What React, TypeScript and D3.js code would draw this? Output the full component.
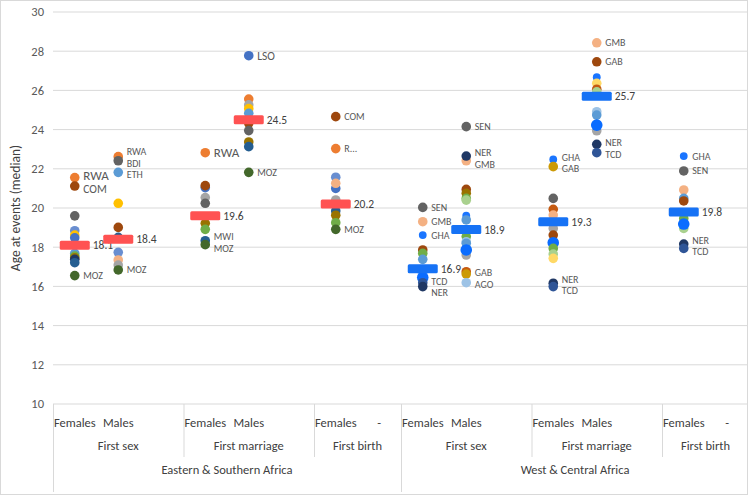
import React from "react";
import * as d3 from "d3";

type Pt = [number, number, string?]; // [series index, median age, country label]

// ---------- DATA ----------
const slotLabels = ["Females", "Males", "", "Females", "Males", "", "Females", "-", "Females", "Males", "", "Females", "Males", "", "Females", "-"];
const eventNames = ["First sex", "First marriage", "First birth", "First sex", "First marriage", "First birth"];
const eventSpans = [[0, 3], [3, 6], [6, 8], [8, 11], [11, 14], [14, 16]];
const regionNames = ["Eastern & Southern Africa", "West & Central Africa"];
const regionSpans = [[0, 8], [8, 16]];
const yTicks = [10, 12, 14, 16, 18, 20, 22, 24, 26, 28, 30];

const esaSexFemales: Pt[] = [[0, 21.55, "RWA"], [1, 21.12, "COM"], [2, 19.6], [3, 18.84], [4, 18.62], [5, 18.48], [6, 17.69], [7, 17.55], [8, 17.46], [13, 17.38], [9, 17.21], [10, 16.55, "MOZ"]];
const esaSexMales: Pt[] = [[0, 22.62, "RWA"], [2, 22.41, "BDI"], [6, 21.82, "ETH"], [4, 20.24], [1, 19.01], [9, 18.5], [3, 17.74], [11, 17.35], [12, 17.09], [10, 16.84, "MOZ"]];
const esaMarFemales: Pt[] = [[0, 22.82, "RWA"], [5, 21.04], [1, 21.14], [12, 20.53], [2, 20.24], [8, 19.22], [7, 18.91], [9, 18.33, "MWI"], [10, 18.13, "MOZ"]];
const esaMarMales: Pt[] = [[5, 27.77, "LSO"], [0, 25.56], [12, 25.26], [4, 25.07], [6, 24.83], [1, 24.32], [2, 23.95], [8, 23.37], [9, 23.13], [10, 21.82, "MOZ"]];
const esaBirthFemales: Pt[] = [[1, 24.66, "COM"], [0, 23.03, "R..."], [3, 21.57], [5, 21.0], [11, 21.26], [12, 20.41], [9, 19.85], [8, 19.63], [7, 19.25], [10, 18.91, "MOZ"]];

const wcaSexFemales: Pt[] = [[2, 20.03, "SEN"], [11, 19.3, "GMB"], [15, 18.62, "GHA"], [1, 17.86], [7, 17.69], [6, 17.38], [14, 16.46], [21, 16.19, "TCD"], [13, 15.99, "NER"]];
const wcaSexMales: Pt[] = [[2, 24.15, "SEN"], [11, 22.41, "GMB"], [13, 22.65, "NER"], [1, 20.95], [8, 20.75], [7, 20.49], [17, 20.4], [15, 19.61], [6, 19.39], [7, 18.54], [20, 18.28], [6, 18.2], [12, 17.6], [14, 17.86], [18, 16.75], [16, 16.63, "GAB"], [20, 16.19, "AGO"]];
const wcaMarFemales: Pt[] = [[15, 22.48, "GHA"], [16, 22.11, "GAB"], [2, 20.49], [18, 19.93], [11, 19.64], [12, 18.96], [1, 18.62], [14, 18.23], [7, 17.94], [17, 17.65], [19, 17.43], [13, 16.16, "NER"], [21, 15.99, "TCD"]];
const wcaMarMales: Pt[] = [[11, 28.43, "GMB"], [1, 27.46, "GAB"], [15, 26.67], [19, 26.36], [18, 26.06], [17, 25.93], [20, 24.91], [6, 24.74], [12, 23.94], [14, 24.23], [13, 23.25, "NER"], [21, 22.82, "TCD"]];
const wcaBirthFemales: Pt[] = [[15, 22.65, "GHA"], [2, 21.89, "SEN"], [11, 20.92], [6, 20.49], [1, 20.36], [7, 19.47], [17, 18.96], [14, 19.18], [13, 18.16, "NER"], [21, 17.94, "TCD"]];

const esaMedians = [18.1, 18.4, 19.6, 24.5, 20.2];
const wcaMedians = [16.9, 18.9, 19.3, 25.7, 19.8];
const panelSlots = [0, 1, 3, 4, 6];

// ---------- STYLE ----------
const palette = [
  "#ED7D31", "#9E480E", "#636363", "#698ED0", "#FFC000", "#4472C4", "#5B9BD5", "#70AD47",
  "#997300", "#255E91", "#43682B", "#F4B183", "#A5A5A5", "#203864", "#0A6CFF", "#1A75FF",
  "#CC9A06", "#A9D18E", "#C55A11", "#FFD966", "#9DC3E6", "#2F5597",
];
const radiusOf = (s: number) => (s === 14 ? 5.8 : s === 15 ? 3.9 : 4.8);
const bigLabels = new Set(["0:RWA", "2:RWA"]);
const midLabels = new Set(["0:COM", "3:LSO"]);
const FONT = "Carlito, Calibri, Lato, 'Open Sans', sans-serif";

const W = 748, H = 497;

type Lab = { text: string; y: number; key: string; fixed: boolean; size: number };

export default function App() {
  const x = d3.scaleBand<number>().domain(d3.range(16)).range([53, 749]).padding(0);
  const y = d3.scaleLinear().domain([10, 30]).range([404, 12]);
  const cx = (slot: number) => (x(slot) as number) + x.bandwidth() / 2;
  const edge = (slot: number) => (x(slot) as number);

  const panels = [
    ...[esaSexFemales, esaSexMales, esaMarFemales, esaMarMales, esaBirthFemales].map((pts, i) => ({ pts, slot: panelSlots[i], median: esaMedians[i], color: "#FF5252" })),
    ...[wcaSexFemales, wcaSexMales, wcaMarFemales, wcaMarMales, wcaBirthFemales].map((pts, i) => ({ pts, slot: panelSlots[i] + 8, median: wcaMedians[i], color: "#1672F5" })),
  ];

  const sizeOf = (key: string) => (bigLabels.has(key) ? 13 : midLabels.has(key) ? 11.5 : 10);

  const placeLabels = (pts: Pt[], median: number, pi: number) => {
    const labs: Lab[] = pts.filter((p) => p[2]).map((p) => {
      const key = `${pi}:${p[2]}`;
      return { text: p[2] as string, y: y(p[1]), key, fixed: false, size: sizeOf(key) };
    });
    labs.push({ text: "", y: y(median), key: "median", fixed: true, size: 11.5 });
    labs.sort((a, b) => a.y - b.y);
    for (let it = 0; it < 40; it++) {
      for (let i = 0; i < labs.length - 1; i++) {
        const a = labs[i], b = labs[i + 1];
        const gap = b.y - a.y;
        const min = (a.size + b.size) / 2 + 1.5;
        if (gap < min) {
          const d = min - gap;
          if (a.fixed) b.y += d;
          else if (b.fixed) a.y -= d;
          else { a.y -= d / 2; b.y += d / 2; }
        }
      }
    }
    return labs.filter((l) => !l.fixed);
  };

  return (
    <svg width={W} height={H} style={{ position: "absolute", left: 0, top: 0, background: "#fff" }} fontFamily={FONT}>
      <rect x={0.5} y={0.5} width={W - 1} height={494} fill="#fff" stroke="#d9d9d9" />
      {yTicks.map((t) => (
        <g key={t}>
          <line x1={53} x2={W} y1={y(t)} y2={y(t)} stroke="#d9d9d9" strokeWidth={1} />
          <text x={44} y={y(t)} dy="0.35em" textAnchor="end" fontSize={12.5} fill="#595959">{t}</text>
        </g>
      ))}
      <text transform={`translate(15,${(y(10) + y(30)) / 2}) rotate(-90)`} textAnchor="middle" dy="0.35em" fontSize={13.5} fill="#404040">
        Age at events (median)
      </text>

      {/* category axis */}
      {[0, 8].map((s) => (
        <line key={"r" + s} x1={edge(s) + 0.5} x2={edge(s) + 0.5} y1={404} y2={492} stroke="#d9d9d9" />
      ))}
      {[3, 6, 11, 14].map((s) => (
        <line key={"e" + s} x1={edge(s) + 0.5} x2={edge(s) + 0.5} y1={404} y2={457} stroke="#d9d9d9" />
      ))}
      {slotLabels.map((l, i) => l ? (
        <text key={"s" + i} x={cx(i)} y={423} dy="0.35em" textAnchor="middle" fontSize={12.5} fill="#404040">{l}</text>
      ) : null)}
      {eventNames.map((n, i) => (
        <text key={"ev" + i} x={(edge(eventSpans[i][0]) + (eventSpans[i][1] < 16 ? edge(eventSpans[i][1]) : 749)) / 2} y={446} dy="0.35em" textAnchor="middle" fontSize={12.5} fill="#404040">{n}</text>
      ))}
      {regionNames.map((n, i) => (
        <text key={"rg" + i} x={(edge(regionSpans[i][0]) + (regionSpans[i][1] < 16 ? edge(regionSpans[i][1]) : 749)) / 2} y={470} dy="0.35em" textAnchor="middle" fontSize={12.5} fill="#404040">{n}</text>
      ))}

      {/* points */}
      {panels.map((p, pi) => (
        <g key={"p" + pi}>
          {p.pts.map((pt, j) => (
            <circle key={j} cx={cx(p.slot)} cy={y(pt[1])} r={radiusOf(pt[0])} fill={palette[pt[0]]} />
          ))}
          <rect x={cx(p.slot) - 15} y={y(p.median) - 4.5} width={30} height={9} rx={1.5} fill={p.color} />
          <text x={cx(p.slot) + 18} y={y(p.median)} dy="0.35em" fontSize={11.5} fill="#404040">{p.median.toFixed(1)}</text>
          {placeLabels(p.pts, p.median, pi).map((l) => (
            <text key={l.key} x={cx(p.slot) + 8.5} y={l.y} dy="0.35em" fontSize={l.size} fill="#595959">{l.text}</text>
          ))}
        </g>
      ))}
    </svg>
  );
}
